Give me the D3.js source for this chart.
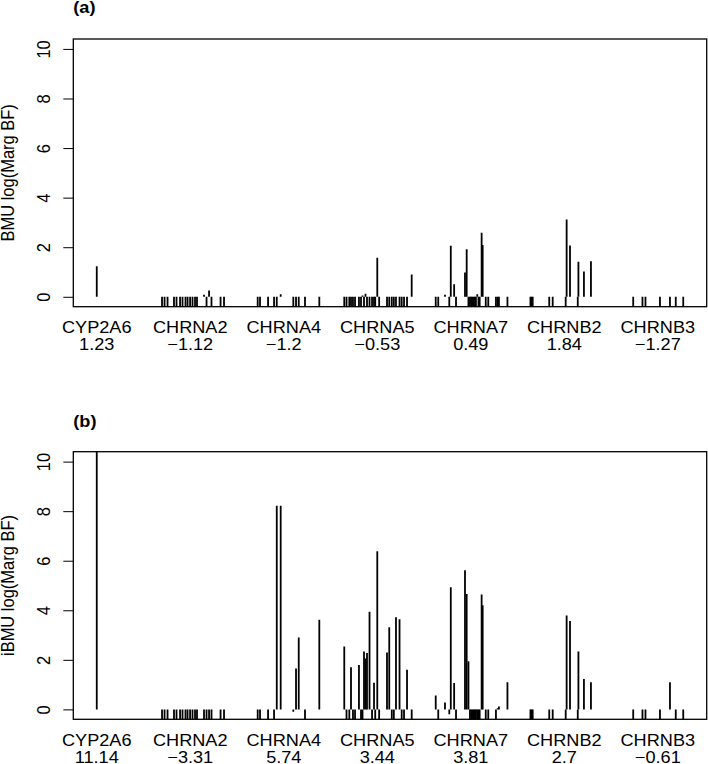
<!DOCTYPE html>
<html><head><meta charset="utf-8">
<script src="https://cdn.jsdelivr.net/npm/d3@7"></script>
<style>
body{margin:0;background:#fff}
svg{display:block}
text{font-family:"Liberation Sans",Arial,Helvetica,sans-serif;fill:#000}
</style>
</head><body>
<script>
// ---- data ----
const genes = ["CYP2A6","CHRNA2","CHRNA4","CHRNA5","CHRNA7","CHRNB2","CHRNB3"];
const geneCenters = [100,200,300,400,500,600,700];
const geneScoreA = [1.23,-1.12,-1.2,-0.53,0.49,1.84,-1.27];
const geneScoreB = [11.14,-3.31,5.74,3.44,3.81,2.7,-0.61];

const snpPos = [
  100,
  169.8,172.5,175.7,182.6,185.3,189.1,191.7,194.9,197.1,199.8,202.4,205.1,207.2,214.7,217.4,220.1,222.7,232.4,236.1,
  272.1,274.6,283.2,289.6,292.5,296.7,310.2,313.1,316.0,322.7,338.0,
  364.7,367.1,370.1,371.9,374.0,376.2,380.4,382.6,384.2,385.8,387.4,389.0,391.7,394.4,396.5,397.8,400.0,402.0,410.4,412.8,415.5,417.7,420.0,423.8,426.1,428.6,431.8,436.8,
  462.5,465.2,472.4,477.0,478.6,482.2,484.2,493.8,495.6,497.5,499.1,500.4,501.7,503.0,504.3,505.5,506.9,508.2,509.5,511.6,512.7,516.0,518.7,526.9,528.7,530.1,539.2,
  563.8,564.9,566.2,583.9,587.6,601.5,602.5,606.1,614.4,615.1,621.0,628.5,
  673.7,683.6,686.8,702.3,713.0,719.2,727.2
];

const bfA = [
  1.23,
  -1,-1,-1,-1,-1,-1,-1,-1,-1,-1,-1,-1,-1,0.08,-1,0.25,-1,-1,-1,
  -1,-1,-1,-1,-1,0.1,-1,-1,-1,-1,-1,
  -1,-1,-1,-1,-1,-1,-1,-1,0.05,-1,0.12,-1,-1,-1,-1,-1,1.57,-1,-1,-1,-1,-1,-1,-1,-1,-1,-1,0.9,
  -1,-1,0.08,-1,2.06,0.51,-1,0.98,1.92,-1,-1,-1,-1,-1,-1,-1,0.1,-1,-1,2.58,2.09,-1,-1,-1,-1,-1,-1,
  -1,-1,-1,-1,-1,-1,3.12,2.07,-1,1.41,1.02,1.43,
  -1,-1,-1,-1,-1,-1,-1
];

const bfB = [
  11.14,
  -1,-1,-1,-1,-1,-1,-1,-1,-1,-1,-1,-1,-1,-1,-1,-1,-1,-1,-1,
  -1,-1,-1,-1,8.22,8.22,-0.1,1.65,2.9,-1,3.62,
  2.54,-1,-1,1.7,-1,-1,1.79,-1,-1,2.34,2.05,2.28,3.94,-1,1.08,-1,6.38,-1,2.3,3.32,-1,-1,3.72,3.64,-1,-1,1.6,-1,
  0.56,-1,0.28,-0.2,4.93,1.06,-1,5.62,4.66,1.94,-1,-1,-1,-1,-1,-1,-1,-1,-1,4.64,4.2,-1,-1,-1,0.05,0.12,1.1,
  -1,-1,-1,-1,-1,-1,3.79,3.57,-1,2.34,1.23,1.1,
  -1,-1,-1,-1,1.1,-1,-1
];

const yTicks = [0,2,4,6,8,10];
const yDomain = [0,10];

// ---- drawing ----
const W = 708, H = 764;
const svg = d3.select("body").append("svg").attr("width", W).attr("height", H);
const fmt = v => String(v).replace("-", "\u2212");
const FS = 16.5, SX = 1.1;

const xExt = d3.extent(snpPos);
const xPad = 0.04 * (xExt[1] - xExt[0]);
const left = 73.3, right = 706.7;
const x = d3.scaleLinear().domain([xExt[0] - xPad, xExt[1] + xPad]).range([left, right]);

const panels = [
  {tag:"(a)", ylab:"BMU log(Marg BF)", vals:bfA, scores:geneScoreA, top:39, bottom:306.7, titleY:13},
  {tag:"(b)", ylab:"iBMU log(Marg BF)", vals:bfB, scores:geneScoreB, top:451.7, bottom:719.3, titleY:426.8}
];

const yPad = 0.04 * (yDomain[1] - yDomain[0]);

panels.forEach((p, pi) => {
  const y = d3.scaleLinear().domain([yDomain[0] - yPad, yDomain[1] + yPad]).range([p.bottom, p.top]);
  const g = svg.append("g");
  const clipId = "clip" + pi;
  svg.append("clipPath").attr("id", clipId).append("rect")
    .attr("x", left).attr("y", p.top).attr("width", right - left).attr("height", p.bottom - p.top);

  // spikes (type = "h")
  g.append("g").attr("clip-path", `url(#${clipId})`)
    .selectAll("line").data(snpPos.map((s, i) => ({s, v: p.vals[i]})))
    .join("line")
    .attr("x1", d => x(d.s)).attr("x2", d => x(d.s))
    .attr("y1", y(0)).attr("y2", d => y(d.v))
    .attr("stroke", "#000").attr("stroke-width", 1.8);

  // y axis
  const ax = g.append("g").attr("transform", `translate(${left},0)`)
    .call(d3.axisLeft(y).tickValues(yTicks).tickSize(10).tickFormat(d3.format("d")));
  ax.select(".domain").remove();
  ax.selectAll(".tick line").attr("stroke", "#000").attr("stroke-width", 1);
  ax.selectAll(".tick text")
    .attr("x", null).attr("dy", null)
    .attr("text-anchor", "middle")
    .attr("font-size", FS)
    .attr("transform", `translate(-23.3,0) scale(${SX},1) rotate(-90)`);

  // box
  g.append("rect").attr("x", left).attr("y", p.top)
    .attr("width", right - left).attr("height", p.bottom - p.top)
    .attr("fill", "none").attr("stroke", "#000").attr("stroke-width", 1.3);

  // y label
  g.append("text")
    .attr("transform", `translate(13.5,${(p.top + p.bottom) / 2}) scale(${SX},1) rotate(-90)`)
    .attr("text-anchor", "middle").attr("font-size", FS).text(p.ylab);

  // panel tag
  g.append("text")
    .attr("transform", `translate(${left},${p.titleY}) scale(${SX},1)`)
    .attr("font-size", FS).attr("font-weight", "bold").text(p.tag);

  // gene labels
  genes.forEach((gn, i) => {
    const cx = x(geneCenters[i]);
    g.append("text").attr("transform", `translate(${cx},${p.bottom + 26.6}) scale(${SX},1)`)
      .attr("text-anchor", "middle").attr("font-size", FS).text(gn);
    g.append("text").attr("transform", `translate(${cx},${p.bottom + 43.5}) scale(${SX},1)`)
      .attr("text-anchor", "middle").attr("font-size", FS).text(fmt(p.scores[i]));
  });
});
</script>
</body></html>
